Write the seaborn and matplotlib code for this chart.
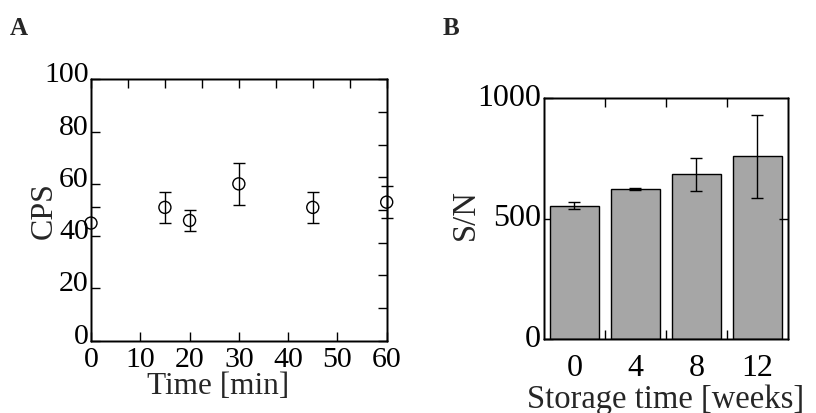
import numpy as np
import pandas as pd
import matplotlib
matplotlib.use("Agg")
import matplotlib.pyplot as plt
import matplotlib.transforms as mtransforms
import seaborn as sns

# Panel A: count rate over time
time_min = [0, 15, 20, 30, 45, 60]
cps = [45, 51, 46, 60, 51, 53]
cps_err = [0, 6, 4, 8, 6, 6]

# Panel B: signal-to-noise vs storage time
weeks = ["0", "4", "8", "12"]
sn = [553, 621, 683, 758]
sn_err = [15, 4, 67, 172]

sns.set_theme(style="ticks")
plt.rcParams["font.family"] = ["Liberation Serif", "DejaVu Serif"]
plt.rcParams.update({
    "axes.linewidth": 1.0,
    "axes.edgecolor": "black",
    "xtick.direction": "in",
    "ytick.direction": "in",
    "xtick.color": "black",
    "ytick.color": "black",
    "xtick.major.width": 1.0,
    "ytick.major.width": 1.0,
    "xtick.major.size": 6.5,
    "ytick.major.size": 6.5,
})

df_a = pd.DataFrame({"time": time_min, "cps": cps, "err": cps_err})
df_b = pd.DataFrame({"weeks": weeks, "sn": sn, "err": sn_err})

fig = plt.figure(figsize=(8.16, 4.14), dpi=100)
axA = fig.add_axes([0.1115, 0.1747, 0.3624, 0.6313])
axB = fig.add_axes([0.6667, 0.1787, 0.2986, 0.5821])


def shift_labels(labels, dy_pt):
    for lab in labels:
        lab.set_transform(lab.get_transform() +
                          mtransforms.ScaledTranslation(0, dy_pt / 72, fig.dpi_scale_trans))


def frame_ticks(ax, top_ticks, right_ticks):
    # extra tick marks on top / right edges (no labels)
    top = ax.twiny()
    top.set_xlim(ax.get_xlim())
    top.set_xticks(top_ticks)
    top.tick_params(axis="x", direction="in", length=6.5, width=1.0, labeltop=False)
    right = ax.twinx()
    right.set_ylim(ax.get_ylim())
    right.set_yticks(right_ticks)
    right.tick_params(axis="y", direction="in", length=6.5, width=1.0, labelright=False)
    for a in (top, right):
        a.grid(False)


# ---- Panel A ----
with_err = df_a[df_a["err"] > 0]
axA.errorbar(with_err["time"], with_err["cps"], yerr=with_err["err"], fmt="none",
             ecolor="black", elinewidth=1.0, capsize=4.3, capthick=1.0, clip_on=False)
sns.scatterplot(data=df_a, x="time", y="cps", marker="o", s=75, facecolor="none",
                edgecolor="black", linewidth=1.0, clip_on=False, zorder=3, ax=axA)
axA.set_xlim(0, 60)
axA.set_ylim(0, 100)
axA.set_xticks(np.arange(0, 61, 10))
axA.set_yticks(np.arange(0, 101, 20))
axA.set_yticks([51], minor=True)
axA.tick_params(axis="y", which="minor", direction="in", length=6.5, width=1.0)
axA.tick_params(axis="both", labelsize=21.5)
axA.tick_params(axis="x", pad=3.6)
axA.tick_params(axis="y", pad=1.5)
axA.set_xlabel("Time [min]", fontsize=22.5)
axA.set_ylabel("CPS", fontsize=23)
axA.xaxis.set_label_coords(0.431, -0.115)
axA.yaxis.set_label_coords(-0.108, 0.5)
shift_labels(axA.get_yticklabels(), 5.8)
frame_ticks(axA, np.arange(0, 61, 7.5), np.arange(0, 101, 12.5))

# ---- Panel B ----
sns.barplot(data=df_b, x="weeks", y="sn", color="#a6a6a6", saturation=1,
            edgecolor="black", linewidth=1.0, width=0.81, errorbar=None, ax=axB)
axB.errorbar(np.arange(len(weeks)), df_b["sn"], yerr=df_b["err"], fmt="none",
             ecolor="black", elinewidth=1.0, capsize=4.5, capthick=1.0)
axB.set_xlim(-0.5, 3.5)
axB.set_ylim(0, 1000)
axB.set_yticks([0, 500, 1000])
axB.set_xticks([0.5, 1.5, 2.5], minor=True)
axB.tick_params(axis="x", which="minor", direction="in", length=6.5, width=1.0)
axB.tick_params(axis="x", which="major", length=0, labelsize=23, pad=10)
axB.tick_params(axis="y", labelsize=23, pad=2)
axB.set_xlabel("Storage time [weeks]", fontsize=23.5)
axB.set_ylabel("S/N", fontsize=23.5)
axB.xaxis.set_label_coords(0.5, -0.183)
axB.yaxis.set_label_coords(-0.258, 0.52)
shift_labels(axB.get_yticklabels(), 3)
frame_ticks(axB, [0.5, 1.5, 2.5], [500])

fig.text(10 / 816, 1 - 35 / 414, "A", fontsize=18, fontweight="bold", va="baseline")
fig.text(443 / 816, 1 - 35 / 414, "B", fontsize=18, fontweight="bold", va="baseline")

fig.savefig("out.png", dpi=100)
